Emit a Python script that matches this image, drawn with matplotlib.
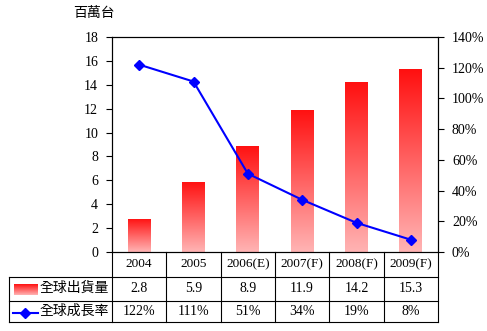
import numpy as np
import matplotlib
matplotlib.use("Agg")
import matplotlib.pyplot as plt
from matplotlib.colors import LinearSegmentedColormap

plt.rcParams['font.family'] = ['Liberation Serif', 'Noto Sans CJK TC']

years = ['2004', '2005', '2006(E)', '2007(F)', '2008(F)', '2009(F)']
shipments = [2.8, 5.9, 8.9, 11.9, 14.2, 15.3]
growth = [122, 111, 51, 34, 19, 8]
shipment_labels = ['2.8', '5.9', '8.9', '11.9', '14.2', '15.3']
growth_labels = ['122%', '111%', '51%', '34%', '19%', '8%']
row_names = ['全球出貨量', '全球成長率']

fig = plt.figure(figsize=(4.87, 3.31), dpi=100)
W, H = 487, 331
ax = fig.add_axes([112 / W, 1 - 252 / H, 326 / W, 215 / H])

cmap = LinearSegmentedColormap.from_list('bar', ['#ffb4b4', '#ff1010'])
grad = np.linspace(0, 1, 256).reshape(-1, 1)
bw = 0.42
x = np.arange(len(years))
for xi, v in zip(x, shipments):
    bar = ax.bar(xi, v, width=bw, facecolor='none', edgecolor='none', zorder=2)[0]
    im = ax.imshow(grad, cmap=cmap, origin='lower', aspect='auto', interpolation='bilinear',
                   extent=[xi - bw / 2, xi + bw / 2, 0, v], zorder=2)
    im.set_clip_path(bar)

ax.set_xlim(-0.5, len(years) - 0.5)
ax.set_ylim(0, 18)
ax.set_yticks(range(0, 19, 2))
ax.set_xticks([])
ax.tick_params(axis='y', labelsize=10, length=4, width=0.8, pad=6)
for s in ax.spines.values():
    s.set_linewidth(0.8)

ax2 = ax.twinx()
ax2.plot(x, np.array(growth) / 100, color='#0000ff', linewidth=1.5,
         marker='D', markersize=5.5, zorder=4)
ax2.set_ylim(0, 1.4)
ax2.set_yticks(np.arange(0, 1.41, 0.2))
ax2.set_yticklabels([f'{int(round(t * 100))}%' for t in np.arange(0, 1.41, 0.2)])
ax2.tick_params(axis='y', labelsize=10, length=4, width=0.8, pad=6)
ax2.set_xlim(-0.5, len(years) - 0.5)

fig.text(73 / W, 1 - 14 / H, '百萬台', fontsize=10, va='center', ha='left')

# table below the axes
tr = ax.get_xaxis_transform()
left = -2.4
r1, r2, r3 = -0.114, -0.226, -0.326
lkw = dict(color='black', linewidth=0.8, clip_on=False, transform=tr)
ax.plot([left, 5.5], [r1, r1], **lkw)
ax.plot([left, 5.5], [r2, r2], **lkw)
ax.plot([left, 5.5], [r3, r3], **lkw)
ax.plot([left, left], [r1, r3], **lkw)
for b in np.arange(-0.5, 6.0, 1.0):
    ax.plot([b, b], [0, r3], **lkw)

for xi in x:
    ax.text(xi, -0.057, years[xi], transform=tr, ha='center', va='center', fontsize=9.5)
    ax.text(xi, -0.170, shipment_labels[xi], transform=tr, ha='center', va='center', fontsize=10)
    ax.text(xi, -0.276, growth_labels[xi], transform=tr, ha='center', va='center', fontsize=10)

# legend keys
ax.imshow(grad, cmap=cmap, origin='lower', aspect='auto', interpolation='bilinear',
          extent=[-2.31, -1.88, -0.198, -0.150], transform=tr, clip_on=False, zorder=5)
ax.plot([-2.33, -1.86], [-0.283, -0.283], color='#0000ff', linewidth=1.5,
        transform=tr, clip_on=False)
ax.plot([-2.095], [-0.283], marker='D', markersize=5.5, color='#0000ff',
        transform=tr, clip_on=False)
ax.text(-1.83, -0.170, row_names[0], transform=tr, ha='left', va='center', fontsize=10)
ax.text(-1.83, -0.276, row_names[1], transform=tr, ha='left', va='center', fontsize=10)
ax.set_xlim(-0.5, len(years) - 0.5)
ax.set_ylim(0, 18)

fig.savefig('out.png', dpi=100)
